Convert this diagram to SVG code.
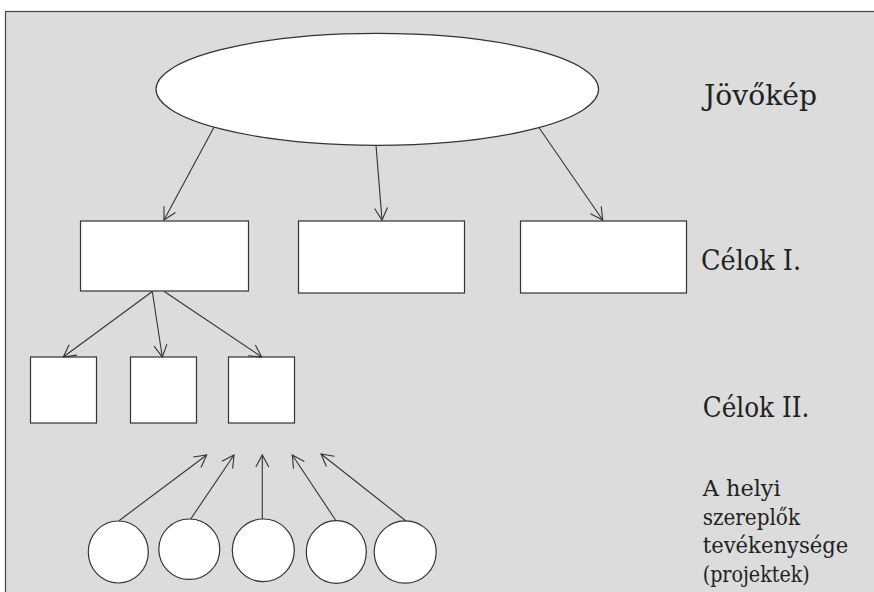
<svg xmlns="http://www.w3.org/2000/svg" width="874" height="592" viewBox="0 0 874 592">
<style>
.node{fill:#ffffff;stroke:#333333;stroke-width:1.2}
.conn{stroke:#333333;stroke-width:1.1;fill:none;marker-end:url(#arrow)}
.big{font-size:28px}
.small{font-size:21.5px}
</style>
<defs>
<marker id="arrow" markerUnits="userSpaceOnUse" viewBox="-14 -8 16 16" refX="0" refY="0" markerWidth="16" markerHeight="16" orient="auto" overflow="visible">
<path d="M-12,-6.5 L0,0 L-12,6.5" fill="none" stroke="#333333" stroke-width="1.1"/>
</marker>
</defs>
<rect x="5.5" y="11.5" width="900" height="620" fill="#dcdcdc" stroke="#444444" stroke-width="1.2"/>
<g id="vision"><ellipse class="node" cx="377.3" cy="89.3" rx="221.3" ry="56"/></g>
<g id="goal1-a"><rect class="node" x="80.5" y="221" width="168" height="70"/></g>
<g id="goal1-b"><rect class="node" x="298.5" y="221" width="166" height="72"/></g>
<g id="goal1-c"><rect class="node" x="520.5" y="221" width="166" height="72"/></g>
<g id="goal2-a"><rect class="node" x="30.5" y="357" width="66" height="66"/></g>
<g id="goal2-b"><rect class="node" x="130.5" y="357" width="66" height="66"/></g>
<g id="goal2-c"><rect class="node" x="228.5" y="357" width="66" height="66"/></g>
<g id="proj1"><ellipse class="node" cx="118.3" cy="552" rx="30" ry="31"/></g>
<g id="proj2"><ellipse class="node" cx="189.3" cy="549.2" rx="30.5" ry="30.2"/></g>
<g id="proj3"><ellipse class="node" cx="263.3" cy="550.3" rx="31" ry="31.3"/></g>
<g id="proj4"><ellipse class="node" cx="336.3" cy="552" rx="30" ry="31.3"/></g>
<g id="proj5"><ellipse class="node" cx="405.2" cy="552" rx="31" ry="31.2"/></g>
<g id="connectors">
<line class="conn" x1="214" y1="127.3" x2="164" y2="220"/>
<line class="conn" x1="376" y1="145.3" x2="382" y2="220"/>
<line class="conn" x1="538.7" y1="127.3" x2="602.7" y2="220"/>
<line class="conn" x1="152.3" y1="291.5" x2="63.3" y2="357"/>
<line class="conn" x1="152.3" y1="291.5" x2="162.3" y2="357"/>
<line class="conn" x1="164.3" y1="291.5" x2="261.7" y2="357"/>
<line class="conn" x1="119" y1="520.7" x2="206.7" y2="455"/>
<line class="conn" x1="190.7" y1="519" x2="234" y2="455"/>
<line class="conn" x1="262.3" y1="519" x2="262.3" y2="455"/>
<line class="conn" x1="336" y1="520.7" x2="292.3" y2="455"/>
<line class="conn" x1="406" y1="521" x2="321" y2="454"/>
</g>
<g id="labels" font-family="DejaVu Serif, Liberation Serif, serif" fill="#222222">
<text class="big" x="704" y="105" textLength="113" lengthAdjust="spacingAndGlyphs">Jövőkép</text>
<text class="big" x="701" y="269.5" textLength="100" lengthAdjust="spacingAndGlyphs">Célok I.</text>
<text class="big" x="702.7" y="416.7" textLength="106.7" lengthAdjust="spacingAndGlyphs">Célok II.</text>
<text class="small" x="702.7" y="496" textLength="78" lengthAdjust="spacingAndGlyphs">A helyi</text>
<text class="small" x="702.7" y="524.5" textLength="97.3" lengthAdjust="spacingAndGlyphs">szereplők</text>
<text class="small" x="702.7" y="553" textLength="145.6" lengthAdjust="spacingAndGlyphs">tevékenysége</text>
<text class="small" x="702.7" y="581.5" textLength="107" lengthAdjust="spacingAndGlyphs">(projektek)</text>
</g>
</svg>
